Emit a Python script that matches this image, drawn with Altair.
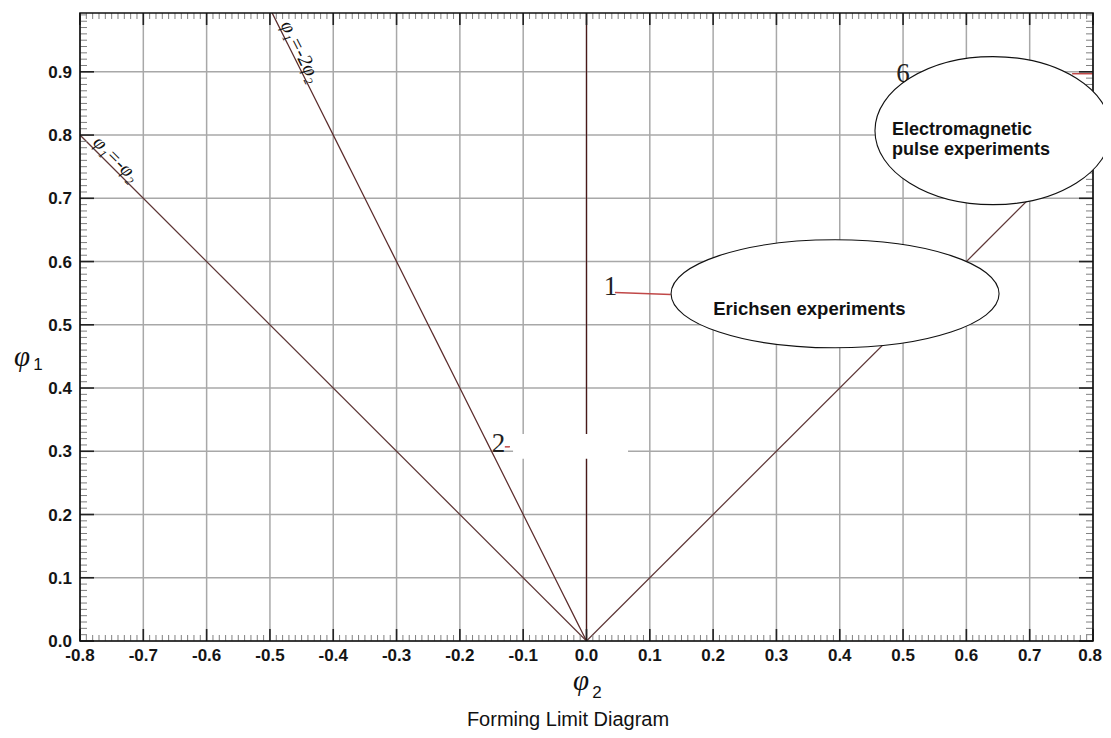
import altair as alt
import numpy as np
import pandas as pd

# ---------------- data ----------------
x_tick_values = [-0.8, -0.7, -0.6, -0.5, -0.4, -0.3, -0.2, -0.1, 0.0, 0.1, 0.2, 0.3, 0.4, 0.5, 0.6, 0.7, 0.8]
x_tick_labels = ["-0.8", "-0.7", "-0.6", "-0.5", "-0.4", "-0.3", "-0.2", "-0.1", "0.0",
                 "0.1", "0.2", "0.3", "0.4", "0.5", "0.6", "0.7", "0.8"]
y_tick_values = [0.0, 0.1, 0.2, 0.3, 0.4, 0.5, 0.6, 0.7, 0.8, 0.9]
y_tick_labels = ["0.0", "0.1", "0.2", "0.3", "0.4", "0.5", "0.6", "0.7", "0.8", "0.9"]

# strain-path boundary lines (phi2, phi1)
line_series = ["neg1", "neg1", "neg2", "neg2", "axis", "axis", "pos1", "pos1"]
line_phi2 = [0.0, -0.8, 0.0, -0.5, 0.0, 0.0, 0.0, 0.75]
line_phi1 = [0.0, 0.8, 0.0, 1.0, 0.0, 0.993, 0.0, 0.75]
line_order = [0, 1, 0, 1, 0, 1, 0, 1]

# short red leader lines for points 1, 2, 6
lead_series = ["p1", "p1", "p2", "p2", "p6", "p6"]
lead_phi2 = [0.045, 0.133, -0.129, -0.121, 0.767, 0.8]
lead_phi1 = [0.551, 0.548, 0.307, 0.307, 0.897, 0.897]

# point labels
pt_labels = ["1", "2", "6"]
pt_phi2 = [0.038, -0.139, 0.500]
pt_phi1 = [0.560, 0.312, 0.897]

# line labels (rotated)
ll_text = ["φ₁=-φ₂", "φ₁=-2φ₂"]
ll_phi2 = [-0.743, -0.452]
ll_phi1 = [0.762, 0.932]
ll_angle = [45, 63.4]

# callouts
call_names = ["Erichsen experiments", "Electromagnetic\npulse experiments"]

W, H = 1013, 628
YMAX = 0.993

xs = alt.Scale(domain=[-0.8, 0.8], nice=False, zero=False)
ys = alt.Scale(domain=[0, YMAX], nice=False, zero=False)

def X(f="x:Q"):
    return alt.X(f, scale=xs, axis=None)

def Y(f="y:Q"):
    return alt.Y(f, scale=ys, axis=None)

# ---------- grid ----------
xg = alt.Chart(pd.DataFrame({"v": x_tick_values})).mark_rule(color="#a8a8a8", strokeWidth=1.5).encode(
    x=X("v:Q"), y=alt.value(0), y2=alt.value(H))
yg = alt.Chart(pd.DataFrame({"v": y_tick_values})).mark_rule(color="#a8a8a8", strokeWidth=1.5).encode(
    y=Y("v:Q"), x=alt.value(0), x2=alt.value(W))

# ---------- tick labels ----------
lab_kw = dict(font="Liberation Sans", fontSize=17, fontWeight="bold", color="#151515")
xl = alt.Chart(pd.DataFrame({"v": x_tick_values[:-1], "t": x_tick_labels[:-1]})).mark_text(
    align="center", baseline="alphabetic", **lab_kw).encode(
    x=X("v:Q"), y=alt.value(H + 20), text="t:N")
xl_last = alt.Chart(pd.DataFrame({"v": x_tick_values[-1:], "t": x_tick_labels[-1:]})).mark_text(
    align="right", baseline="alphabetic", dx=9, **lab_kw).encode(
    x=X("v:Q"), y=alt.value(H + 20), text="t:N")
yl = alt.Chart(pd.DataFrame({"v": y_tick_values, "t": y_tick_labels})).mark_text(
    align="right", baseline="middle", dy=1, **lab_kw).encode(
    y=Y("v:Q"), x=alt.value(-8), text="t:N")

# ---------- lines ----------
lines_df = pd.DataFrame({"s": line_series, "x": line_phi2, "y": line_phi1, "o": line_order})
lines = alt.Chart(lines_df).mark_line(clip=True, strokeWidth=1.25).encode(
    x=X(), y=Y(), detail="s:N", order="o:Q",
    color=alt.Color("s:N", legend=None, scale=alt.Scale(
        domain=["neg1", "neg2", "axis", "pos1"],
        range=["#5e3636", "#5a2a2a", "#4a1818", "#5e3636"])),
)

# white patch
patch = alt.Chart(pd.DataFrame({"x": [-0.116], "x2": [0.0656], "y": [0.288], "y2": [0.3275]})).mark_rect(
    color="white").encode(x=X(), x2="x2:Q", y=Y(), y2="y2:Q")

# leader lines
leads = alt.Chart(pd.DataFrame({"s": lead_series, "x": lead_phi2, "y": lead_phi1})).mark_line(
    color="#c04848", strokeWidth=1.5).encode(x=X(), y=Y(), detail="s:N")

# ---------- ticks (inside) ----------
major_x = np.round(np.array(x_tick_values), 2)
minor_x = np.round(np.arange(-0.8, 0.8001, 0.01), 2)
minor_x = minor_x[~np.isin(minor_x, major_x)]
major_y = np.round(np.array(y_tick_values), 2)
minor_y = np.round(np.arange(0.0, YMAX, 0.01), 2)
minor_y = minor_y[~np.isin(minor_y, major_y)]

def xticks(vals, length, color, width):
    b = alt.Chart(pd.DataFrame({"v": vals})).mark_rule(color=color, strokeWidth=width)
    return [b.encode(x=X("v:Q"), y=alt.value(H), y2=alt.value(H - length)),
            b.encode(x=X("v:Q"), y=alt.value(0), y2=alt.value(length))]

def yticks(vals, length, color, width):
    b = alt.Chart(pd.DataFrame({"v": vals})).mark_rule(color=color, strokeWidth=width)
    return [b.encode(y=Y("v:Q"), x=alt.value(0), x2=alt.value(length)),
            b.encode(y=Y("v:Q"), x=alt.value(W), x2=alt.value(W - length))]

tick_layers = (xticks(minor_x, 6, "#808080", 1) + xticks(major_x, 12, "#222", 1.6)
               + yticks(minor_y, 7, "#808080", 1) + yticks(major_y, 14, "#222", 1.6))

# border
border = alt.Chart(pd.DataFrame({"x": [-0.8], "x2": [0.8], "y": [0.0], "y2": [YMAX]})).mark_rect(
    fillOpacity=0, stroke="#111", strokeWidth=1.6).encode(x=X(), x2="x2:Q", y=Y(), y2="y2:Q")

# ---------- callout ellipses ----------
def ellipse_path(r):
    k = 0.5523
    return (f"M -1 0 C -1 {-k*r:.4f} {-k:.4f} {-r:.4f} 0 {-r:.4f} "
            f"C {k:.4f} {-r:.4f} 1 {-k*r:.4f} 1 0 "
            f"C 1 {k*r:.4f} {k:.4f} {r:.4f} 0 {r:.4f} "
            f"C {-k:.4f} {r:.4f} -1 {k*r:.4f} -1 0 Z")

e1 = alt.Chart(pd.DataFrame({"x": [0.3926], "y": [0.549]})).mark_point(
    shape=ellipse_path(54 / 164), size=328 ** 2, filled=True, fill="white",
    stroke="#111", strokeWidth=1.1, opacity=1, fillOpacity=1).encode(x=X(), y=Y())

e2 = alt.Chart(pd.DataFrame({"x": [0.642], "y": [0.807]})).mark_point(
    shape=ellipse_path(74 / 118), size=236 ** 2, filled=True, fill="white",
    stroke="#111", strokeWidth=1.1, opacity=1, fillOpacity=1).encode(x=X(), y=Y())

t1 = alt.Chart(pd.DataFrame({"x": [0.352], "y": [0.516], "t": [call_names[0]]})).mark_text(
    font="Liberation Sans", fontWeight="bold", fontSize=18.5, color="#111",
    align="center", baseline="alphabetic").encode(x=X(), y=Y(), text="t:N")

t2 = alt.Chart(pd.DataFrame({"x": [0.4826], "y": [0.8006], "t": [call_names[1]]})).mark_text(
    font="Liberation Sans", fontWeight="bold", fontSize=18, color="#111",
    align="left", baseline="alphabetic", lineBreak="\n", lineHeight=20).encode(
    x=X(), y=Y(), text="t:N")

# ---------- point labels ----------
pts = alt.Chart(pd.DataFrame({"x": pt_phi2, "y": pt_phi1, "t": pt_labels})).mark_text(
    font="Liberation Serif", fontSize=27, color="#222", align="center", baseline="middle").encode(
    x=X(), y=Y(), text="t:N")

# ---------- rotated line labels ----------
ll_layers = []
for t, x, y, a in zip(ll_text, ll_phi2, ll_phi1, ll_angle):
    ll_layers.append(alt.Chart(pd.DataFrame({"x": [x], "y": [y], "t": [t]})).mark_text(
        font="Liberation Serif", fontStyle="italic", fontSize=20, color="#111",
        align="center", baseline="middle", angle=a).encode(x=X(), y=Y(), text="t:N"))

# ---------- axis titles + caption ----------
def txt(s, px, py, **kw):
    return alt.Chart(pd.DataFrame({"t": [s]})).mark_text(**kw).encode(
        text="t:N", x=alt.value(px), y=alt.value(py))

phi_kw = dict(font="Liberation Serif", fontStyle="italic", fontSize=29, color="#111",
              align="center", baseline="middle")
sub_kw = dict(font="Liberation Sans", fontSize=17, color="#111", align="center", baseline="middle")

titles = [
    txt("φ", -58, 344, **phi_kw),
    txt("1", -42, 352, **sub_kw),
    txt("φ", 501, 668, **phi_kw),
    txt("2", 517, 680, **sub_kw),
    txt("Forming Limit Diagram", 488, 713, font="Liberation Sans", fontSize=20,
        color="#111", align="center", baseline="alphabetic"),
]

chart = alt.layer(
    xg, yg, lines, patch, leads, *tick_layers, border, xl, xl_last, yl, *ll_layers, pts,
    e1, e2, t1, t2, *titles
).properties(
    width=W, height=H,
    autosize=alt.AutoSizeParams(type="none"),
    padding={"left": 72, "top": 5, "right": 10, "bottom": 89},
    background="white",
).configure_view(stroke=None)

chart.save("out.html", embed_options={"renderer": "svg", "actions": False})
